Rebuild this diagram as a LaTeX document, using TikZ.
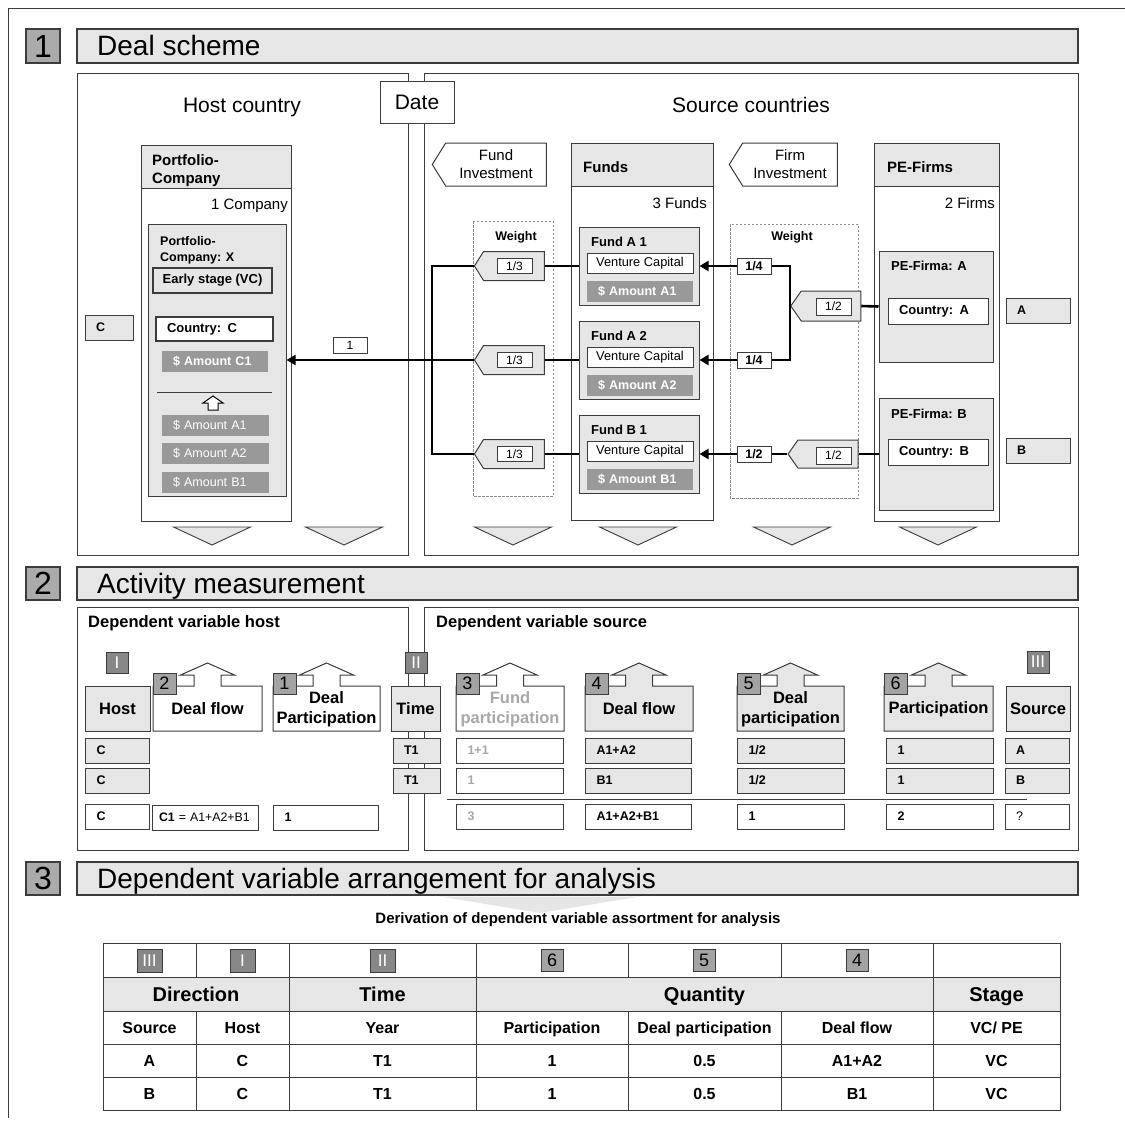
\documentclass[tikz,border=0pt]{standalone}
\usepackage{fontspec}
\setmainfont{Liberation Sans}
\usetikzlibrary{arrows.meta,shapes.symbols}

\definecolor{lite}{HTML}{E6E6E6}
\definecolor{amt}{HTML}{999999}
\definecolor{numg}{HTML}{A3A3A3}
\definecolor{romg}{HTML}{878787}
\definecolor{secg}{HTML}{ABABAB}
\definecolor{ink}{HTML}{3C3C3C}
\definecolor{ghost}{HTML}{A8A8A8}
\definecolor{dashc}{HTML}{8C8C8C}

\newcommand\fsz[2]{\fontsize{#1}{#2}\selectfont}
% box from corner (x1,y1) to (x2,y2), centred text
\newcommand\bx[7]{\node[#6, minimum width={((#4)-(#2))*1pt}, minimum height={((#5)-(#3))*1pt}] (#1) at ({((#2)+(#4))/2},{((#3)+(#5))/2}) {#7};}
% box with left-aligned text and side padding
\newcommand\bxl[8]{\node[#6, minimum width={((#4)-(#2))*1pt}, minimum height={((#5)-(#3))*1pt}, text width={((#4)-(#2)-2*(#7))*1pt}, inner xsep={(#7)*1pt}, align=left] (#1) at ({((#2)+(#4))/2},{((#3)+(#5))/2}) {#8};}
% section header: number box and title bar
\newcommand\sechead[4]{%
  \bx{sec#1}{26}{#2}{60}{#3}{bd, fill=secg, line width=1.4pt, font=\fsz{32pt}{32pt}}{#1}
  \bx{bar#1}{77}{#2}{1078}{#3}{bd, fill=lite, line width=1.4pt}{}
  \node[anchor=base west, font=\fsz{28pt}{30pt}, inner sep=0pt] (ttl#1) at (97,{(#2+#3)/2+9.5}) {#4};}
% measurement box with an upward block arrow on top
\newcommand\upbox[7]{%
  \pgfmathsetmacro\ucx{(#2+#3)/2}
  \draw[#4] (#2,731) -- (#2,686) -- ({\ucx-13.5},686) -- ({\ucx-13.5},675) -- ({\ucx-27},675)
     -- (\ucx,663) -- ({\ucx+27},675) -- ({\ucx+13.5},675) -- ({\ucx+13.5},686) -- (#3,686) -- (#3,731) -- cycle;
  \node[#5, align=center, inner sep=0pt] (#1) at (\ucx,709) {#7};
  \bx{#1num}{#2}{673}{#2+23}{694}{bd, fill=numg, font=\fsz{18pt}{18pt}}{#6}}
% down chevron under a column
\newcommand\chev[1]{\draw[ink, line width=0.9pt, fill=lite] ({#1-38.5},527) -- ({#1+38.5},527) -- (#1,545) -- cycle;}

\begin{document}
\begin{tikzpicture}[x=1pt, y=-1pt,
  bd/.style={draw=ink, line width=1pt, inner sep=0pt},
  lite box/.style={bd, fill=lite},
  white box/.style={bd, fill=white},
  amt box/.style={fill=amt, text=white, inner sep=0pt, font=\fsz{12.5pt}{15pt}},
  panel/.style={draw=ink, line width=1pt},
  conn/.style={line width=2.6pt, black},
  arr/.style={conn, -{Triangle[length=9pt,width=10pt]}},
  tag/.style={signal, signal to=west, signal pointer angle=116, draw=ink, line width=1pt, fill=lite, inner sep=0pt},
  val/.style={font=\fsz{12.5pt}{15pt}\bfseries},
  ttlfont/.style={font=\fsz{15pt}{18pt}\bfseries},
  hfont/.style={font=\fsz{16.5pt}{20pt}\bfseries},
  roman/.style={bd, fill=romg, text=white, font=\fsz{17pt}{17pt}},
  weightbox/.style={draw=dashc, line width=0.7pt, dash pattern=on 2.5pt off 1.5pt},
  tcell/.style={font=\fsz{16pt}{18pt}\bfseries, inner sep=0pt, anchor=base},
  gcell/.style={font=\fsz{20pt}{22pt}\bfseries, inner sep=0pt, anchor=base}]

\useasboundingbox (0,0) rectangle (1125,1122);
\fill[white] (0,0) rectangle (1125,1122);
\draw[ink, line width=1pt] (1125,8) -- (8,8) -- (8,1118);

% ================= 1: deal scheme =================
\sechead{1}{29}{63}{Deal scheme}
\draw[panel] (77,73) rectangle (408,555);
\draw[panel] (424,73) rectangle (1078,555);
\bx{date}{380}{81}{454}{123}{white box, font=\fsz{21pt}{24pt}}{Date}
\node[anchor=base, font=\fsz{21pt}{24pt}] (hostc) at (242,112) {Host country};
\node[anchor=base, font=\fsz{21pt}{24pt}] (srcc) at (751,112) {Source countries};

% portfolio company
\bx{pc}{141}{145}{291}{521}{white box}{}
\bx{pch}{141}{145}{291}{188}{lite box}{}
\node[anchor=west, align=left, ttlfont, inner sep=0pt] (pct) at (152,171) {Portfolio-\\Company};
\node[anchor=base east, font=\fsz{15pt}{18pt}, inner sep=0pt] (pcn) at (288,209) {1 Company};
\bx{pcx}{148}{224}{286}{496}{lite box}{}
\node[anchor=north west, align=left, font=\fsz{12.5pt}{16.5pt}\bfseries, inner sep=0pt] (pcxt) at (160,236) {Portfolio-\\Company: X};
\bx{es}{153}{268}{272}{293}{lite box, line width=1.3pt, font=\fsz{13pt}{15pt}\bfseries}{Early stage (VC)}
\bxl{cc}{156}{317}{273}{341}{white box, line width=1.3pt, font=\fsz{13pt}{15pt}\bfseries}{11}{Country: C}
\bxl{ac1}{162}{351}{268}{372}{amt box, font=\fsz{12.5pt}{15pt}\bfseries}{11}{\$ Amount C1}
\draw[ink, line width=1pt] (157,392) -- (272,392);
\draw[black, line width=1pt, fill=white] (213,396) -- (223,403) -- (218,403) -- (218,410) -- (208,410) -- (208,403) -- (203,403) -- cycle;
\bxl{aa1}{162}{415}{269}{436}{amt box}{11}{\$ Amount A1}
\bxl{aa2}{162}{443}{269}{464}{amt box}{11}{\$ Amount A2}
\bxl{ab1}{162}{472}{269}{493}{amt box}{11}{\$ Amount B1}
\bxl{hostC}{85}{315}{133}{340}{lite box, val}{11}{C}
\bx{one}{333}{337}{367}{353}{white box, font=\fsz{12pt}{14pt}}{1}

% funds
\node[tag, fill=white, minimum width=114pt, minimum height=43pt, align=center, font=\fsz{15pt}{18pt}] (fundinv) at (496,164.5) {Fund\\Investment};
\bx{funds}{571}{143}{713}{520}{white box}{}
\bx{fundsh}{571}{143}{713}{186}{lite box}{}
\node[anchor=base west, ttlfont, inner sep=0pt] (fundst) at (583,172) {Funds};
\node[anchor=base east, font=\fsz{15pt}{18pt}, inner sep=0pt] (fundsn) at (707,208) {3 Funds};
\draw[weightbox] (473,221) rectangle (553,496);
\node[anchor=base, val, inner sep=0pt] (wt1) at (516,240) {Weight};

\foreach \nm/\yc in {A1/266, A2/360, B1/454}{
  \node[tag, minimum width=70pt, minimum height=29pt] (tag\nm) at (514,\yc) {};
  \bx{w\nm}{497}{\yc-7.5}{532}{\yc+7.5}{white box, font=\fsz{12pt}{14pt}}{1/3}
}
\foreach \nm/\lab/\yt in {A1/{Fund A 1}/227, A2/{Fund A 2}/321, B1/{Fund B 1}/415}{
  \bx{fund\nm}{579}{\yt}{699}{\yt+78}{lite box}{}
  \node[anchor=base west, font=\fsz{13pt}{15pt}\bfseries, inner sep=0pt] (fund\nm t) at (591,\yt+19) {\lab};
  \bx{vc\nm}{587}{\yt+26}{693}{\yt+46}{white box, font=\fsz{12.8pt}{15pt}}{Venture Capital}
  \bxl{am\nm}{587}{\yt+54}{693}{\yt+75}{amt box, font=\fsz{12.5pt}{15pt}\bfseries}{11}{\$ Amount \nm}
}

% PE firms
\node[tag, fill=white, minimum width=108pt, minimum height=43pt, align=center, font=\fsz{15pt}{18pt}] (firminv) at (790,164.5) {Firm\\Investment};
\bx{pe}{874}{143}{999}{521}{white box}{}
\bx{peh}{874}{143}{999}{186}{lite box}{}
\node[anchor=base west, ttlfont, inner sep=0pt] (pet) at (887,172) {PE-Firms};
\node[anchor=base east, font=\fsz{15pt}{18pt}, inner sep=0pt] (pen) at (995,208) {2 Firms};
\draw[weightbox] (730,224) rectangle (858,498);
\node[anchor=base, val, inner sep=0pt] (wt2) at (792,240) {Weight};

\bx{q1}{737}{258}{771}{274}{white box, val}{1/4}
\bx{q2}{737}{352}{771}{368}{white box, val}{1/4}
\bx{h1}{737}{446}{771}{462}{white box, val}{1/2}
\node[tag, signal pointer angle=110, minimum width=70pt, minimum height=30pt] (tagPA) at (831,306) {};
\bx{wPA}{816}{298}{851}{315}{white box, font=\fsz{12pt}{14pt}}{1/2}
\node[tag, signal pointer angle=110, minimum width=70pt, minimum height=28pt] (tagPB) at (828,454) {};
\bx{wPB}{816}{447}{851}{464}{white box, font=\fsz{12pt}{14pt}}{1/2}

\bx{peA}{879}{251}{993}{362}{lite box}{}
\node[anchor=base west, font=\fsz{13pt}{15pt}\bfseries, inner sep=0pt] (peAt) at (891,270) {PE-Firma: A};
\bxl{ctyA}{888}{298}{988}{324}{white box, font=\fsz{13pt}{15pt}\bfseries}{11}{Country: A}
\bx{peB}{879}{398}{993}{510}{lite box}{}
\node[anchor=base west, font=\fsz{13pt}{15pt}\bfseries, inner sep=0pt] (peBt) at (891,418) {PE-Firma: B};
\bxl{ctyB}{888}{439}{988}{465}{white box, font=\fsz{13pt}{15pt}\bfseries}{11}{Country: B}
\bxl{srcA}{1006}{298}{1070}{323}{lite box, val}{11}{A}
\bxl{srcB}{1006}{438}{1070}{463}{lite box, val}{11}{B}

% investment flows
\coordinate (jL) at (432,360);
\coordinate (jA) at (790,306);
\draw[conn] (tagA1.west) -| (jL);
\draw[conn] (tagB1.west) -| (jL);
\draw[arr] (tagA2.west) -- (pcx.east);
\draw[conn] (tagA1.east) -- (fundA1.west);
\draw[conn] (tagA2.east) -- (fundA2.west);
\draw[conn] (tagB1.east) -- (fundB1.west);
\draw[arr] (q1.west) -- (fundA1.east);
\draw[arr] (q2.west) -- (fundA2.east);
\draw[arr] (h1.west) -- (fundB1.east);
\draw[conn] (q1.east) -| (jA);
\draw[conn] (q2.east) -| (jA);
\draw[conn] (jA) -- (tagPA.west);
\draw[conn] (tagPA.east) -- (peA.west);
\draw[conn] (h1.east) -- (tagPB.west);
\draw[conn] (tagPB.east) -- (peB.west);

\chev{212}\chev{344}\chev{513}\chev{638}\chev{792}\chev{938}

% ================= 2: activity measurement =================
\sechead{2}{567}{600}{Activity measurement}
\draw[panel] (77,607) rectangle (408,850);
\draw[panel] (424,607) rectangle (1078,850);
\node[anchor=base west, hfont, inner sep=0pt] (dvh) at (88,627) {Dependent variable host};
\node[anchor=base west, hfont, inner sep=0pt] (dvs) at (436,627) {Dependent variable source};
\bx{rI}{106}{652}{128}{673}{roman}{I}
\bx{rII}{405}{652}{427}{673}{roman}{II}
\bx{rIII}{1027}{651}{1049}{673}{roman}{III}

\bx{host}{85}{686}{150}{731}{lite box, hfont}{Host}
\upbox{hdf}{153}{262}{white box}{hfont}{2}{Deal flow}
\upbox{hdp}{273}{380}{white box}{hfont}{1}{Deal\\Participation}
\bx{time}{391}{686}{440}{731}{lite box, hfont}{Time}
\upbox{sfp}{456}{564}{white box}{hfont, text=ghost}{3}{Fund\\participation}
\upbox{sdf}{585}{693}{lite box}{hfont}{4}{Deal flow}
\upbox{sdp}{737}{844}{lite box}{hfont}{5}{Deal\\participation}
\upbox{spa}{884}{993}{lite box}{hfont}{6}{Participation}
\bx{src}{1006}{686}{1070}{731}{lite box, hfont}{Source}

% host values
\bxl{hv1}{85}{738}{149}{763}{lite box, val}{11.5}{C}
\bxl{hv2}{85}{768}{149}{793}{lite box, val}{11.5}{C}
\bxl{hv3}{85}{804}{149}{829}{white box, val}{11.5}{C}
\bxl{hdfv}{152}{805}{258}{830}{white box, font=\fsz{12.3pt}{15pt}}{7}{\textbf{C1} = A1+A2+B1}
\bxl{hdpv}{273}{805}{378}{830}{white box, val}{11.5}{1}
\bxl{tv1}{393}{738}{440}{763}{lite box, val}{11}{T1}
\bxl{tv2}{393}{768}{440}{793}{lite box, val}{11}{T1}

% source values
\draw[ink, line width=1pt] (447,799) -- (1027,799);
\bxl{fp1}{456}{738}{563}{763}{white box, val, text=ghost}{11.5}{1+1}
\bxl{fp2}{456}{768}{563}{793}{white box, val, text=ghost}{11.5}{1}
\bxl{fp3}{456}{804}{563}{829}{white box, val, text=ghost}{11.5}{3}
\bxl{df1}{585}{738}{691}{763}{lite box, val}{11.5}{A1+A2}
\bxl{df2}{585}{768}{691}{793}{lite box, val}{11.5}{B1}
\bxl{df3}{585}{804}{691}{829}{white box, val}{11.5}{A1+A2+B1}
\bxl{dp1}{737}{738}{844}{763}{lite box, val}{11.5}{1/2}
\bxl{dp2}{737}{768}{844}{793}{lite box, val}{11.5}{1/2}
\bxl{dp3}{737}{804}{844}{829}{white box, val}{11.5}{1}
\bxl{pa1}{886}{738}{993}{763}{lite box, val}{11.5}{1}
\bxl{pa2}{886}{768}{993}{793}{lite box, val}{11.5}{1}
\bxl{pa3}{886}{804}{993}{829}{white box, val}{11.5}{2}
\bxl{sv1}{1005}{738}{1069}{763}{lite box, val}{11}{A}
\bxl{sv2}{1005}{768}{1069}{793}{lite box, val}{11}{B}
\bxl{sv3}{1005}{804}{1069}{829}{white box, font=\fsz{12.5pt}{15pt}}{11}{?}

% ================= 3: arrangement for analysis =================
\sechead{3}{862}{895}{Dependent variable arrangement for analysis}
\fill[lite] (440,896.5) -- (640,896.5) -- (540,913) -- cycle;
\node[anchor=base, font=\fsz{15pt}{18pt}\bfseries, inner sep=0pt] (deriv) at (578,923) {Derivation of dependent variable assortment for analysis};

% table grid
\fill[lite] (103,977) rectangle (1060,1011);
\draw[ink, line width=1pt] (103,943) rectangle (1060,1110);
\foreach \yy in {977,1011,1044,1077}{\draw[ink, line width=1pt] (103,\yy) -- (1060,\yy);}
\foreach \xx in {289,476,933}{\draw[ink, line width=1pt] (\xx,943) -- (\xx,1110);}
\foreach \xx in {196,628,781}{
  \draw[ink, line width=1pt] (\xx,943) -- (\xx,977);
  \draw[ink, line width=1pt] (\xx,1011) -- (\xx,1110);}

% key row
\bx{kIII}{137}{949}{162}{972}{roman}{III}
\bx{kI}{230}{949}{255}{972}{roman}{I}
\bx{kII}{370}{949}{395}{972}{roman}{II}
\bx{k6}{541}{949}{563}{971}{bd, fill=numg, font=\fsz{18pt}{18pt}}{6}
\bx{k5}{693}{949}{715}{971}{bd, fill=numg, font=\fsz{18pt}{18pt}}{5}
\bx{k4}{846}{949}{868}{971}{bd, fill=numg, font=\fsz{18pt}{18pt}}{4}

% group row
\node[gcell] (gDir) at (196,1001.5) {Direction};
\node[gcell] (gTime) at (382.5,1001.5) {Time};
\node[gcell] (gQty) at (704.5,1001.5) {Quantity};
\node[gcell] (gStage) at (996.5,1001.5) {Stage};

% header and data rows
\foreach \cx/\a/\b/\c [count=\i] in {149.5/Source/A/B, 242.5/Host/C/C, 382.5/Year/T1/T1, 552/Participation/1/1,
    704.5/{Deal participation}/0.5/0.5, 857/{Deal flow}/A1+A2/B1, 996.5/{VC/ PE}/VC/VC}{
  \node[tcell] (h\i) at (\cx,1033.5) {\a};
  \node[tcell] (ra\i) at (\cx,1066.5) {\b};
  \node[tcell] (rb\i) at (\cx,1099.5) {\c};
}
\end{tikzpicture}
\end{document}
